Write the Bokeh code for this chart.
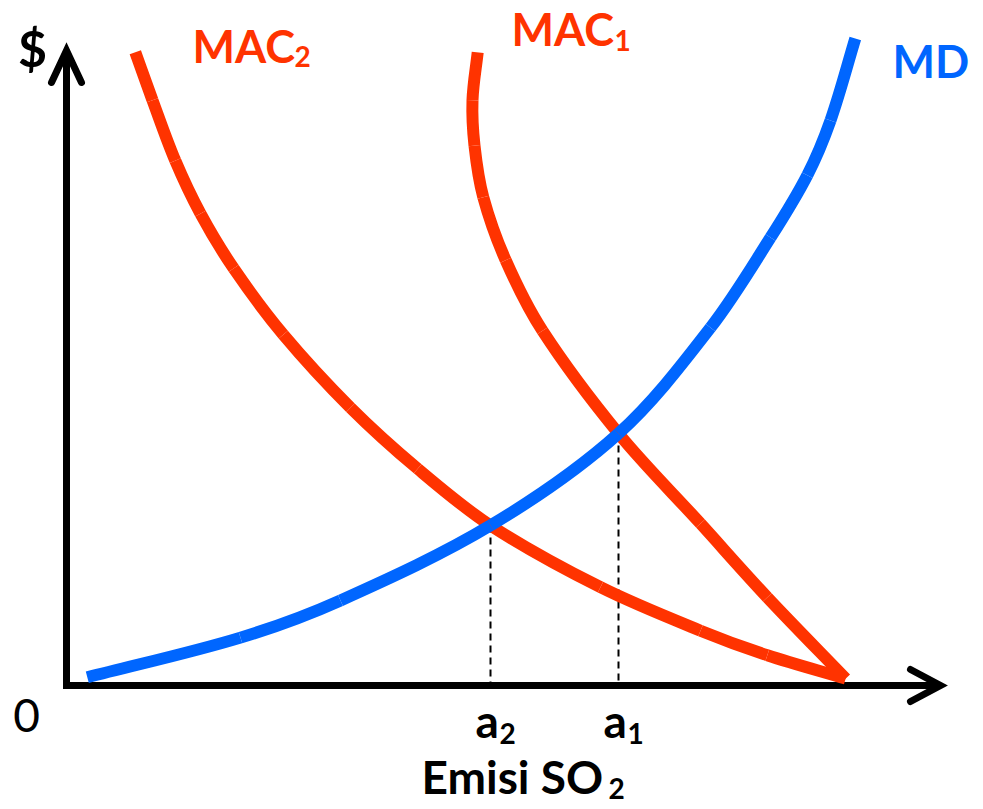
from bokeh.plotting import figure
from bokeh.models import Range1d, Label
from bokeh.embed import file_html
from bokeh.resources import INLINE

# ---- data (emission units on x, $ on y) ----
md_x = [2.6, 21.75, 34.25, 53.0, 69.0, 80.5, 88.0, 92.6, 95.5, 98.6]
md_y = [1.3, 7.6, 13.5, 25.4, 40.0, 56.8, 71.1, 81.0, 89.7, 102.7]

mac2_x = [8.6, 10.75, 13.6, 16.75, 20.9, 27.1, 35.5, 43.9, 53.0, 66.75, 79.25, 87.6, 97.4]
mac2_y = [100.5, 92.9, 83.3, 74.9, 66.2, 55.7, 44.1, 34.4, 25.4, 15.6, 8.7, 4.8, 1.1]

mac1_x = [51.4, 50.75, 51.0, 52.1, 54.9, 59.5, 69.0, 79.25, 87.6, 97.4]
mac1_y = [100.5, 92.9, 85.7, 77.5, 67.5, 56.3, 40.0, 25.7, 14.0, 1.1]

eq_x = [53.0, 69.0]          # a2, a1
eq_y = [25.4, 40.0]
eq_labels = ["a", "a"]
eq_subs = ["2", "1"]

x_axis_end = 109.25
y_axis_end = 100.8

RED = "#FF3300"
BLUE = "#0066FF"
FONT = "Lato"

# pixel scale of the drawing
PX_X = 8.0    # pixels per x unit
PX_Y = 6.3    # pixels per y unit
OX, OY = 66, 685  # origin in canvas pixels
TXT_DY = 17       # label baseline correction (px)

W, H = 983, 809


def d(px, py):
    """canvas pixel -> data coordinates"""
    return (px - OX) / PX_X, (OY - py) / PX_Y


x0 = -OX / PX_X
y1 = OY / PX_Y
p = figure(width=W, height=H, output_backend="svg", toolbar_location=None,
           x_range=Range1d(x0, x0 + W / PX_X), y_range=Range1d(y1 - H / PX_Y, y1),
           min_border=0)
p.axis.visible = False
p.grid.visible = False
p.outline_line_color = None
p.background_fill_color = "white"

# axes
p.line([0, 0, x_axis_end], [y_axis_end, 0, 0], line_color="black", line_width=7,
       line_join="miter")
hx, hy = 30 / PX_X, 16 / PX_Y
p.line([-15 / PX_X, 0, 15 / PX_X], [y_axis_end - 32 / PX_Y, y_axis_end, y_axis_end - 32 / PX_Y],
       line_color="black", line_width=7, line_cap="round", line_join="miter")
p.line([x_axis_end - hx, x_axis_end, x_axis_end - hx], [hy, 0, -hy],
       line_color="black", line_width=7, line_cap="round", line_join="miter")

# dashed guides
p.segment(x0=eq_x, y0=eq_y, x1=eq_x, y1=[0, 0], line_color="black", line_width=2,
          line_dash="7 5")


def smooth(xs, ys, color):
    """Smooth curve through the points: chord-length Catmull-Rom drawn as Beziers."""
    n = len(xs)
    P = [(x * PX_X, y * PX_Y) for x, y in zip(xs, ys)]   # isotropic pixel space
    t = [0.0]
    for i in range(1, n):
        t.append(t[-1] + ((P[i][0] - P[i-1][0]) ** 2 + (P[i][1] - P[i-1][1]) ** 2) ** 0.5)
    T = []
    for i in range(n):
        a, b = max(i - 1, 0), min(i + 1, n - 1)
        dt = t[b] - t[a]
        T.append(((P[b][0] - P[a][0]) / dt, (P[b][1] - P[a][1]) / dt))
    cols = {k: [] for k in ("x0", "y0", "x1", "y1", "cx0", "cy0", "cx1", "cy1")}
    for i in range(n - 1):
        h = t[i + 1] - t[i]
        c0 = (P[i][0] + T[i][0] * h / 3, P[i][1] + T[i][1] * h / 3)
        c1 = (P[i+1][0] - T[i+1][0] * h / 3, P[i+1][1] - T[i+1][1] * h / 3)
        cols["x0"].append(xs[i]); cols["y0"].append(ys[i])
        cols["x1"].append(xs[i + 1]); cols["y1"].append(ys[i + 1])
        cols["cx0"].append(c0[0] / PX_X); cols["cy0"].append(c0[1] / PX_Y)
        cols["cx1"].append(c1[0] / PX_X); cols["cy1"].append(c1[1] / PX_Y)
    p.bezier(line_color=color, line_width=12, line_cap="butt", **cols)


smooth(mac2_x, mac2_y, RED)
smooth(mac1_x, mac1_y, RED)
smooth(md_x, md_y, BLUE)


def label(px, py, text, color="black", size=45, style="bold", align="left"):
    x, y = d(px, py - TXT_DY)
    p.add_layout(Label(x=x, y=y, text=text, text_color=color, text_font=FONT,
                       text_font_size=f"{size}px", text_font_style=style,
                       text_align=align, text_baseline="alphabetic"))


label(32, 64, "$", size=50, align="center")
label(192, 62, "MAC", RED)
label(294, 73, "2", RED, size=28)
label(511, 45, "MAC", RED)
label(614, 57, "1", RED, size=28)
label(892, 77, "MD", BLUE)
label(26, 732, "0", size=46, style="normal", align="center")

for ex, lab, sub in zip(eq_x, eq_labels, eq_subs):
    cx = OX + ex * PX_X
    label(cx - 15, 737, lab, size=46)
    label(cx + 9, 750, sub, size=28)

label(421, 793, "Emisi SO", size=46)
label(608, 805, "2", size=28)

open("out.html", "w").write(file_html(p, INLINE))
